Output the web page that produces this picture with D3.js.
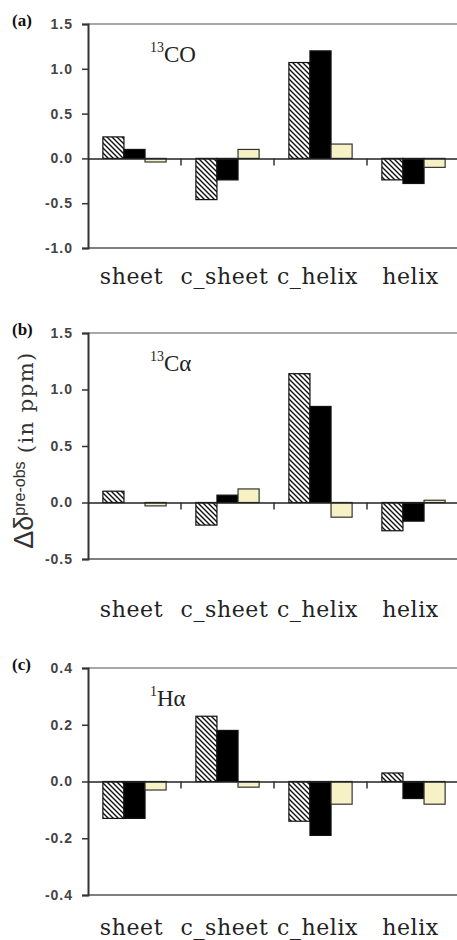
<!DOCTYPE html>
<html>
<head>
<meta charset="utf-8">
<script src="https://cdnjs.cloudflare.com/ajax/libs/d3/7.8.5/d3.min.js"></script>
<style>
  body { margin: 0; background: #fff; }
  .tick-label { font-family: "Liberation Sans", Arial, sans-serif; font-weight: bold; font-size: 14px; fill: #444; letter-spacing: 1px; }
  .cat-label { font-family: "DejaVu Serif", serif; font-size: 22px; fill: #222; letter-spacing: 0.6px; }
  .panel-label { font-family: "Liberation Serif", serif; font-weight: bold; font-size: 17px; fill: #111; }
  .note { font-family: "Liberation Serif", serif; fill: #222; }
</style>
</head>
<body>
<div id="chart"></div>
<script>
var categories = ["sheet", "c_sheet", "c_helix", "helix"];
var seriesNames = ["hatched", "black", "light"];

// (a) 13CO
var coHatched = [0.24, -0.46, 1.07, -0.24];
var coBlack   = [0.10, -0.24, 1.20, -0.28];
var coLight   = [-0.04, 0.10, 0.16, -0.10];
var coTicks   = [-1.0, -0.5, 0.0, 0.5, 1.0, 1.5];

// (b) 13C alpha
var caHatched = [0.10, -0.20, 1.14, -0.25];
var caBlack   = [0.00, 0.065, 0.85, -0.165];
var caLight   = [-0.03, 0.12, -0.13, 0.02];
var caTicks   = [-0.5, 0.0, 0.5, 1.0, 1.5];

// (c) 1H alpha
var haHatched = [-0.13, 0.23, -0.14, 0.03];
var haBlack   = [-0.13, 0.18, -0.19, -0.06];
var haLight   = [-0.03, -0.02, -0.08, -0.08];
var haTicks   = [-0.4, -0.2, 0.0, 0.2, 0.4];

var fullwidth = 457;
var fullheight = 940;
var left = 88, right = 460;

var svg = d3.select("#chart").append("svg")
    .attr("width", fullwidth)
    .attr("height", fullheight)
    .style("display", "block");

var defs = svg.append("defs");
var pat = defs.append("pattern")
    .attr("id", "hatch")
    .attr("patternUnits", "userSpaceOnUse")
    .attr("width", 5)
    .attr("height", 5);
pat.append("rect").attr("width", 5).attr("height", 5).attr("fill", "#fff");
pat.append("path")
    .attr("d", "M0,0 L5,5 M-1,4 L1,6 M4,-1 L6,1")
    .attr("stroke", "#111")
    .attr("stroke-width", 1.4);

var fills = {hatched: "url(#hatch)", black: "#000", light: "#f7f1c6"};

var xScale = d3.scaleBand()
    .domain(categories)
    .range([left, right]);

var x1 = d3.scaleBand()
    .domain(seriesNames)
    .range([xScale.bandwidth() * 0.16, xScale.bandwidth() * 0.84]);

var panels = [
    {label: "(a)", iso: "13", atom: "CO", top: 24, bottom: 248, domain: [-1.0, 1.5], ticks: coTicks,
     series: [coHatched, coBlack, coLight], catY: 284},
    {label: "(b)", iso: "13", atom: "C\u03b1", top: 333, bottom: 559, domain: [-0.5, 1.5], ticks: caTicks,
     series: [caHatched, caBlack, caLight], catY: 617},
    {label: "(c)", iso: "1", atom: "H\u03b1", top: 668, bottom: 895, domain: [-0.4, 0.4], ticks: haTicks,
     series: [haHatched, haBlack, haLight], catY: 935}
];

panels.forEach(function(p) { drawPanel(p); });

function drawPanel(p) {
    var g = svg.append("g");

    var yScale = d3.scaleLinear()
        .domain(p.domain)
        .range([p.bottom, p.top]);

    // frame lines
    g.append("line")
        .attr("x1", left).attr("x2", fullwidth)
        .attr("y1", p.top).attr("y2", p.top)
        .attr("stroke", "#8a8a8a").attr("stroke-width", 1.5);
    g.append("line")
        .attr("x1", left).attr("x2", fullwidth)
        .attr("y1", p.bottom).attr("y2", p.bottom)
        .attr("stroke", "#555").attr("stroke-width", 1.5);

    // y axis
    var yAxis = d3.axisLeft(yScale)
        .tickValues(p.ticks)
        .tickSize(6)
        .tickPadding(9)
        .tickFormat(d3.format(".1f"));

    var ya = g.append("g")
        .attr("transform", "translate(" + left + ",0)")
        .call(yAxis);
    ya.select(".domain").attr("stroke", "#333").attr("stroke-width", 2);
    ya.selectAll(".tick line").attr("stroke", "#333").attr("stroke-width", 1.5);
    ya.selectAll(".tick text")
        .attr("class", "tick-label")
        .attr("font-family", null).attr("font-size", null)
        .text(function(d) { return d3.format(".1f")(d).replace("\u2212", "-"); });

    // bars
    var data = [];
    categories.forEach(function(c, i) {
        seriesNames.forEach(function(s, j) {
            data.push({cat: c, s: s, v: p.series[j][i]});
        });
    });

    g.selectAll("rect.bar")
        .data(data.filter(function(d) { return d.v !== 0; }))
        .enter()
        .append("rect")
        .attr("class", "bar")
        .attr("x", function(d) { return xScale(d.cat) + x1(d.s); })
        .attr("width", x1.bandwidth())
        .attr("y", function(d) { return yScale(Math.max(0, d.v)); })
        .attr("height", function(d) { return Math.abs(yScale(d.v) - yScale(0)); })
        .attr("fill", function(d) { return fills[d.s]; })
        .attr("stroke", function(d) { return d.s == "light" ? "#333" : "#111"; })
        .attr("stroke-width", 1.2);

    // zero line with category ticks
    var xAxis = d3.axisBottom(xScale)
        .tickSize(0)
        .tickFormat("");
    var xa = g.append("g")
        .attr("transform", "translate(0," + yScale(0) + ")")
        .call(xAxis);
    xa.select(".domain").attr("stroke", "#222").attr("stroke-width", 1.5);

    g.selectAll("line.sep")
        .data(categories.slice(1))
        .enter()
        .append("line")
        .attr("class", "sep")
        .attr("x1", function(d) { return xScale(d); })
        .attr("x2", function(d) { return xScale(d); })
        .attr("y1", yScale(0))
        .attr("y2", yScale(0) + 7)
        .attr("stroke", "#333")
        .attr("stroke-width", 1.5);

    // category labels
    g.selectAll("text.cat")
        .data(categories)
        .enter()
        .append("text")
        .attr("class", "cat-label")
        .attr("x", function(d) { return xScale(d) + xScale.bandwidth() / 2 - 3; })
        .attr("y", p.catY)
        .attr("text-anchor", "middle")
        .text(function(d) { return d; });

    // panel label
    g.append("text")
        .attr("class", "panel-label")
        .attr("x", 12)
        .attr("y", p.top + 2)
        .text(p.label);

    // nucleus note
    var note = g.append("text")
        .attr("class", "note")
        .attr("x", 150)
        .attr("y", p.top + 38);
    note.append("tspan")
        .attr("font-size", 14)
        .attr("dy", -10)
        .text(p.iso);
    note.append("tspan")
        .attr("font-size", 23)
        .attr("dy", 10)
        .text(p.atom);
}

// y axis title
var title = svg.append("text")
    .attr("transform", "translate(33,450) rotate(-90)")
    .attr("text-anchor", "middle")
    .attr("fill", "#333");
title.append("tspan")
    .attr("font-family", "Liberation Sans, Arial, sans-serif")
    .attr("font-size", 27)
    .text("\u0394\u03b4");
title.append("tspan")
    .attr("font-family", "Liberation Sans, Arial, sans-serif")
    .attr("font-size", 16)
    .attr("dy", -8)
    .text("pre-obs");
title.append("tspan")
    .attr("font-family", "DejaVu Serif, serif")
    .attr("font-size", 21)
    .attr("letter-spacing", 1.5)
    .attr("dy", 8)
    .text(" (in ppm)");
</script>
</body>
</html>
